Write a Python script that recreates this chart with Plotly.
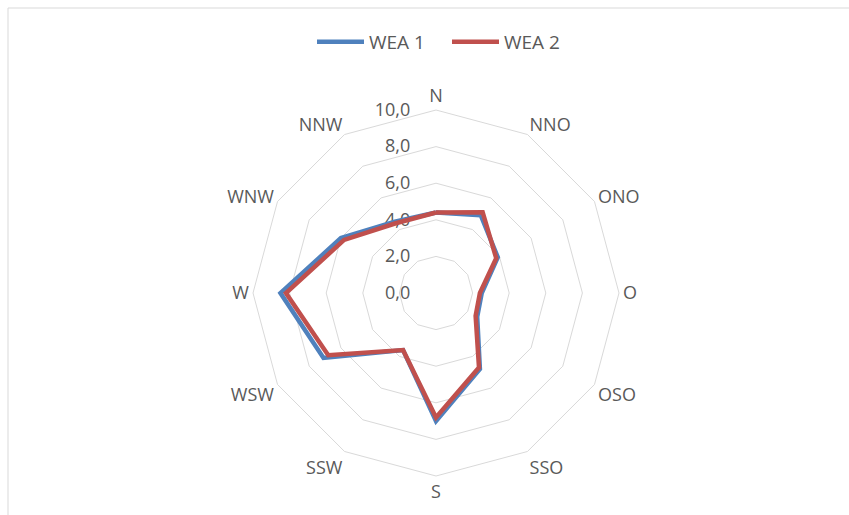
import plotly.graph_objects as go

directions = ["N", "NNO", "ONO", "O", "OSO", "SSO", "S", "SSW", "WSW", "W", "WNW", "NNW"]
wea1 = [4.4, 4.9, 3.9, 2.5, 2.6, 4.8, 7.0, 3.6, 7.1, 8.5, 6.0, 4.5]
wea2 = [4.4, 5.1, 3.8, 2.4, 2.5, 4.7, 6.8, 3.6, 6.8, 8.2, 5.8, 4.4]
radial_ticks = [0, 2, 4, 6, 8, 10]

W, H = 849, 515
cx, cy, R = 436, 293, 183

fig = go.Figure()
for name, vals, col in [("WEA 1", wea1, "#4F81BD"), ("WEA 2", wea2, "#C0504D")]:
    fig.add_trace(go.Scatterpolar(
        r=vals + vals[:1], theta=directions + directions[:1], mode="lines",
        name=name, line=dict(color=col, width=4.5)))

fig.update_layout(
    width=W, height=H, margin=dict(l=0, r=0, t=0, b=0),
    paper_bgcolor="white", plot_bgcolor="white",
    separators=",.",
    font=dict(family="Open Sans, Liberation Sans, sans-serif", size=18, color="#595959"),
    showlegend=True,
    legend=dict(orientation="h", x=312 / W, xanchor="left", y=1 - 42 / H, yanchor="middle",
                font=dict(size=19, color="#595959"), itemwidth=47, entrywidth=73),
    polar=dict(
        domain=dict(x=[(cx - R) / W, (cx + R) / W], y=[(H - cy - R) / H, (H - cy + R) / H]),
        bgcolor="white",
        gridshape="linear",
        angularaxis=dict(direction="clockwise", rotation=90, type="category",
                         categoryarray=directions, showgrid=False, showline=True,
                         linecolor="#d9d9d9", linewidth=1, ticks="",
                         tickfont=dict(size=18, color="#595959")),
        radialaxis=dict(range=[0, 10], tickvals=radial_ticks, tickformat=".1f",
                        angle=90, tickangle=90, showline=False,
                        ticks="outside", ticklen=19, tickcolor="rgba(0,0,0,0)",
                        layer="below traces",
                        gridcolor="#d9d9d9", gridwidth=1, side="counterclockwise",
                        tickfont=dict(size=18, color="#595959")),
    ),
    shapes=[
        dict(type="line", xref="paper", yref="paper", x0=8 / W, x1=1, y0=1 - 8 / H, y1=1 - 8 / H,
             line=dict(color="#d9d9d9", width=1)),
        dict(type="line", xref="paper", yref="paper", x0=8 / W, x1=8 / W, y0=0, y1=1 - 8 / H,
             line=dict(color="#d9d9d9", width=1)),
    ],
)

fig.write_html("out.html", config={"displayModeBar": False},
               post_script="document.body.style.margin='0';document.body.style.overflow='hidden';")
